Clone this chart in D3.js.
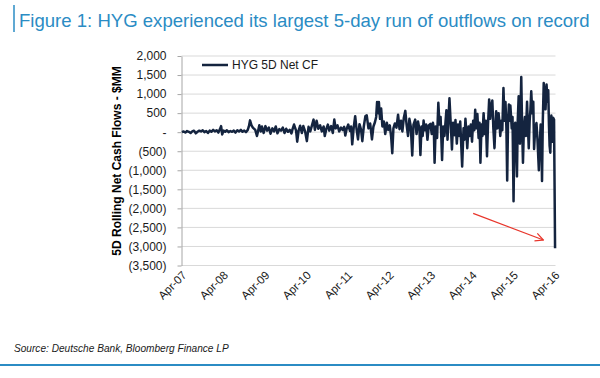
<!DOCTYPE html>
<html>
<head>
<meta charset="utf-8">
<script src="https://cdn.jsdelivr.net/npm/d3@7"></script>
<style>
  html, body { margin: 0; padding: 0; background: #fff; }
  svg { display: block; font-family: "Liberation Sans", Arial, sans-serif; }
</style>
</head>
<body>
<div id="chart"></div>
<script>
// Chart text
const chartTitle = "Figure 1: HYG experienced its largest 5-day run of outflows on record";
const sourceNote = "Source: Deutsche Bank, Bloomberg Finance LP";
const yAxisTitle = "5D Rolling Net Cash Flows - $MM";
const seriesName = "HYG 5D Net CF";

// Axis ticks
const yTicks = [2000, 1500, 1000, 500, 0, -500, -1000, -1500, -2000, -2500, -3000, -3500];
const xTickLabels = ["Apr-07", "Apr-08", "Apr-09", "Apr-10", "Apr-11", "Apr-12", "Apr-13", "Apr-14", "Apr-15", "Apr-16"];

// HYG 5-day rolling net cash flows ($MM) (one line per year)
const flowDates = [
  "2007-04-05","2007-04-20","2007-05-05","2007-05-20","2007-06-05","2007-06-20","2007-07-05","2007-07-20","2007-08-05","2007-08-20","2007-09-05","2007-09-20","2007-10-05","2007-10-20","2007-11-05","2007-11-20","2007-12-05","2007-12-20",
  "2008-01-05","2008-01-20","2008-02-05","2008-02-20","2008-03-05","2008-03-15","2008-03-25","2008-04-05","2008-04-20","2008-05-05","2008-05-20","2008-06-05","2008-06-20","2008-07-05","2008-07-20","2008-08-05","2008-08-20","2008-09-05","2008-09-20","2008-10-05","2008-10-20","2008-11-05","2008-11-15","2008-11-25","2008-12-08","2008-12-20",
  "2009-01-10","2009-01-25","2009-02-05","2009-02-15","2009-02-28","2009-03-10","2009-03-25","2009-04-10","2009-04-25","2009-05-10","2009-05-25","2009-06-10","2009-06-25","2009-07-10","2009-07-25","2009-08-10","2009-08-25","2009-09-10","2009-09-25","2009-10-10","2009-10-25","2009-11-10","2009-11-25","2009-12-05","2009-12-18",
  "2010-01-05","2010-01-15","2010-01-28","2010-02-10","2010-02-25","2010-03-10","2010-03-25","2010-04-10","2010-04-25","2010-05-10","2010-05-25","2010-06-08","2010-06-20","2010-07-05","2010-07-20","2010-08-05","2010-08-20","2010-09-05","2010-09-15","2010-09-28","2010-10-12","2010-10-25","2010-11-10","2010-11-25","2010-12-08","2010-12-20",
  "2011-01-05","2011-01-20","2011-02-05","2011-02-20","2011-03-05","2011-03-15","2011-03-28","2011-04-10","2011-04-25","2011-05-05","2011-05-15","2011-05-28","2011-06-10","2011-06-22","2011-07-05","2011-07-18","2011-08-01","2011-08-12","2011-08-25","2011-09-08","2011-09-20","2011-10-05","2011-10-20","2011-11-05","2011-11-18","2011-12-01","2011-12-12","2011-12-20","2011-12-30",
  "2012-01-05","2012-01-15","2012-01-25","2012-02-05","2012-02-18","2012-03-01","2012-03-15","2012-03-28","2012-04-10","2012-04-22","2012-05-02","2012-05-12","2012-05-25","2012-06-08","2012-06-22","2012-07-05","2012-07-18","2012-07-30","2012-08-12","2012-08-25","2012-09-05","2012-09-18","2012-09-30","2012-10-12","2012-10-25","2012-11-05","2012-11-20","2012-12-02","2012-12-15","2012-12-28",
  "2013-01-05","2013-01-15","2013-01-25","2013-02-02","2013-02-12","2013-02-25","2013-03-08","2013-03-20","2013-04-03","2013-04-15","2013-04-25","2013-05-03","2013-05-10","2013-05-20","2013-06-01","2013-06-12","2013-06-22","2013-07-02","2013-07-15","2013-07-25","2013-08-05","2013-08-15","2013-08-22","2013-09-01","2013-09-10","2013-09-18","2013-09-28","2013-10-10","2013-10-20","2013-11-01","2013-11-10","2013-11-22","2013-12-02","2013-12-12","2013-12-22",
  "2014-01-08","2014-01-20","2014-01-28","2014-02-06","2014-02-14","2014-02-22","2014-03-05","2014-03-15","2014-03-25","2014-04-05","2014-04-15","2014-04-25","2014-05-03","2014-05-12","2014-05-22","2014-06-02","2014-06-10","2014-06-18","2014-06-28","2014-07-06","2014-07-16","2014-07-26","2014-08-05","2014-08-15","2014-08-24","2014-09-03","2014-09-12","2014-09-22","2014-10-01","2014-10-10","2014-10-20","2014-10-28","2014-11-04","2014-11-14","2014-11-25","2014-12-03","2014-12-10","2014-12-20","2014-12-28",
  "2015-01-07","2015-01-16","2015-01-25","2015-02-02","2015-02-09","2015-02-16","2015-02-24","2015-03-02","2015-03-09","2015-03-21","2015-03-28","2015-04-06","2015-04-14","2015-04-21","2015-04-28","2015-05-06","2015-05-13","2015-05-21","2015-06-01","2015-06-07","2015-06-13","2015-06-20","2015-06-28","2015-07-06","2015-07-15","2015-07-24","2015-08-03","2015-08-10","2015-08-18","2015-08-26","2015-09-02","2015-09-09","2015-09-18","2015-09-27","2015-10-04","2015-10-14","2015-10-25","2015-11-03","2015-11-15","2015-11-23","2015-12-01","2015-12-07","2015-12-13","2015-12-20","2015-12-28",
  "2016-01-06","2016-01-13","2016-01-22","2016-01-30","2016-02-06","2016-02-12","2016-02-18","2016-02-24","2016-03-04","2016-03-12","2016-03-19","2016-03-28","2016-04-06"
];
const flowValues = [
  0, 20, -10, 30, 10, -20, 20, 40, -30, 10, 40, 20, 50, 0, 30, -20, 40, 10,
  60, 20, 50, -10, 80, 160, -60, 40, 10, 50, 0, 30, 10, 40, -10, 50, 20, 60, 10, 40, 0, 60, 150, 310, 180, 120,
  60, -100, 40, 180, 20, 150, -20, 160, 40, 120, -40, 100, 20, 150, -30, 80, 40, 120, -20, 90, 10, 60, -30, 80, 200,
  40, -250, 50, 170, -20, 160, 30, -235, 140, 20, 180, 330, 60, 300, 90, 180, 20, 150, -100, 80, 200, 40, 160, -20, 330, 100,
  180, 20, 120, 60, 140, -90, 100, 200, 30, 150, -320, 120, 420, 80, -190, 210, 60, -235, 150, 420, 440, 100, 230, -190, 150, 260, 400, 790, 500,
  790, 350, 620, 150, 280, -50, 250, 60, 180, -120, -550, 100, 230, 120, 460, 80, 300, 20, 380, 560, 200, -100, 350, 150, -610, 200, 330, -50, 280, 60,
  -600, 150, -100, 305, 50, 200, -200, 180, 220, -50, 250, 100, -800, 150, -150, 770, 200, 400, -730, 150, -100, 300, 575, -200, 400, 890, 300, -455, 250, -80, 320, -300, 200, -100, 280,
  -900, 100, -200, 350, 0, -420, 150, -100, 200, -250, 300, 50, 590, 100, 480, -150, 250, -800, 200, -100, 500, -50, 300, -630, 200, 860, 350, 700, 830, 100, -420, 200, 550, 100, 500, 250, -100, 300, 50,
  1160, 300, 790, 100, -1270, 200, 725, 300, 700, 100, 400, -1810, 100, 250, -300, -1160, 300, 945, -300, 600, 1450, 200, -800, 100, 400, -100, 800, 200, -420, 300, 600, 1075, 500, 800, -440, 100, 240, -200, -1000, -300, 200, -100, -1280, 300, 1290,
  900, 600, 1250, 800, 1100, 200, -360, -540, 440, -250, 380, 330, -3045
];

// Red annotation arrow (date, value) pointing at the record outflow
const arrowFrom = ["2014-04-15", -2130];
const arrowTo = ["2015-12-25", -2830];

if (flowDates.length !== flowValues.length) {
  console.error("flow arrays differ", flowDates.length, flowValues.length);
}

const width = 600;
const height = 378;
const accent = "#2b8cc4";
const navy = "#14243f";

const parseDay = d3.timeParse("%Y-%m-%d");
const parseTick = d3.timeParse("%b-%y");
const data = flowDates.map((d, i) => ({ date: parseDay(d), value: flowValues[i] }));
const xTickDates = xTickLabels.map(parseTick);

const svg = d3.select("#chart")
  .append("svg")
  .attr("width", width)
  .attr("height", height);

svg.append("defs").append("marker")
  .attr("id", "arrow-head")
  .attr("viewBox", "0 0 10 10")
  .attr("refX", 9)
  .attr("refY", 5)
  .attr("markerWidth", 10)
  .attr("markerHeight", 10)
  .attr("markerUnits", "userSpaceOnUse")
  .attr("orient", "auto")
  .append("path")
  .attr("d", "M1,1L9,5L1,9")
  .attr("fill", "none")
  .attr("stroke", "#e8352b")
  .attr("stroke-width", 1.2);

// Header: accent bar and title
svg.append("line")
  .attr("x1", 14).attr("x2", 14)
  .attr("y1", 5).attr("y2", 32)
  .attr("stroke", accent)
  .attr("stroke-width", 1.5);

const titleText = svg.append("text")
  .attr("x", 19)
  .attr("y", 27)
  .attr("fill", accent)
  .style("font-size", "17px")
  .text(chartTitle);
// fit the title to the width it takes in the picture
const titleLen = titleText.node().getComputedTextLength();
titleText.style("font-size", `${17 * 571 / titleLen}px`);

// Scales
const x = d3.scaleTime()
  .domain([xTickDates[0], xTickDates[xTickDates.length - 1]])
  .range([181.5, 554.5]);

const y = d3.scaleLinear()
  .domain([-3500, 2000])
  .range([265.5, 56]);

const plotRight = 555.5;

// Gridlines
svg.append("g")
  .selectAll("line")
  .data(yTicks)
  .join("line")
  .attr("x1", x.range()[0])
  .attr("x2", plotRight)
  .attr("y1", d => y(d))
  .attr("y2", d => y(d))
  .attr("stroke", "#d9d9d9")
  .attr("stroke-width", 1);

// Y axis
const fmtNum = d3.format(",");
const fmtY = d => d === 0 ? "-" : d < 0 ? `(${fmtNum(-d)})` : fmtNum(d);

const yAxis = svg.append("g")
  .attr("transform", `translate(${x.range()[0]},0)`)
  .call(d3.axisLeft(y).tickValues(yTicks).tickFormat(fmtY).tickSize(4).tickSizeOuter(0).tickPadding(11));

yAxis.select(".domain").attr("stroke", "#a6a6a6");
yAxis.selectAll(".tick line").attr("stroke", "#a6a6a6");
yAxis.selectAll(".tick text")
  .attr("fill", "#1a1a1a")
  .style("font-size", "12px")
  .style("font-family", '"Liberation Sans", Arial, sans-serif');

svg.append("text")
  .attr("transform", `translate(121,161) rotate(-90)`)
  .attr("text-anchor", "middle")
  .attr("fill", "#000")
  .style("font-size", "12px")
  .style("font-weight", "bold")
  .text(yAxisTitle);

// X axis labels (rotated)
svg.append("g")
  .selectAll("text")
  .data(xTickDates)
  .join("text")
  .attr("transform", d => `translate(${x(d) + 3},273) rotate(-45)`)
  .attr("text-anchor", "end")
  .attr("dy", "0.35em")
  .attr("fill", "#1a1a1a")
  .style("font-size", "11.5px")
  .text((d, i) => xTickLabels[i]);

// Series line
const line = d3.line()
  .x(d => x(d.date))
  .y(d => y(d.value));

svg.append("path")
  .datum(data)
  .attr("d", line)
  .attr("fill", "none")
  .attr("stroke", navy)
  .attr("stroke-width", 2.5)
  .attr("stroke-linejoin", "round");

// Legend
svg.append("line")
  .attr("x1", 202).attr("x2", 228)
  .attr("y1", 65).attr("y2", 65)
  .attr("stroke", navy)
  .attr("stroke-width", 2.5);

svg.append("text")
  .attr("x", 232)
  .attr("y", 69)
  .attr("fill", "#1a1a1a")
  .style("font-size", "12px")
  .text(seriesName);

// Annotation arrow
svg.append("line")
  .attr("x1", x(parseDay(arrowFrom[0])))
  .attr("y1", y(arrowFrom[1]))
  .attr("x2", x(parseDay(arrowTo[0])))
  .attr("y2", y(arrowTo[1]))
  .attr("stroke", "#e8352b")
  .attr("stroke-width", 1.2)
  .attr("marker-end", "url(#arrow-head)");

// Footer
const sourceText = svg.append("text")
  .attr("x", 14)
  .attr("y", 352)
  .attr("fill", "#1a1a1a")
  .style("font-size", "9.5px")
  .style("font-style", "italic")
  .text(sourceNote);
const sourceLen = sourceText.node().getComputedTextLength();
sourceText.style("font-size", `${9.5 * 215 / sourceLen}px`);

svg.append("line")
  .attr("x1", 0).attr("x2", width)
  .attr("y1", 365).attr("y2", 365)
  .attr("stroke", accent)
  .attr("stroke-width", 2);
</script>
</body>
</html>
